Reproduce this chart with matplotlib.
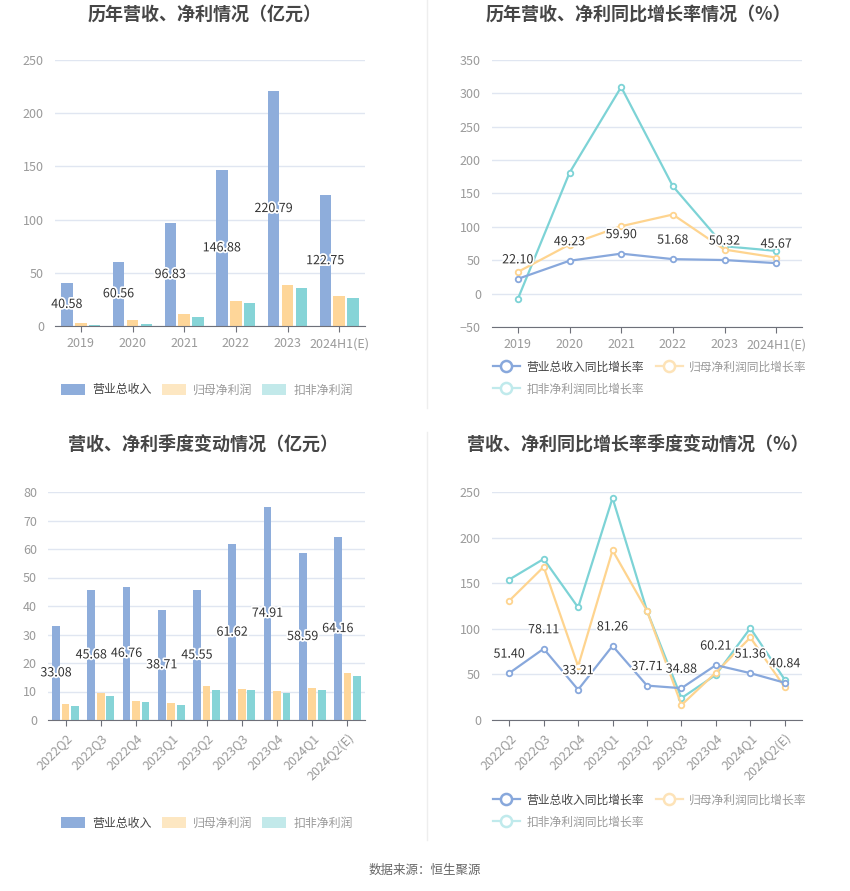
import numpy as np
import matplotlib
matplotlib.use("Agg")
import matplotlib.pyplot as plt
import matplotlib.patheffects as pe
from matplotlib.lines import Line2D
from matplotlib.patches import Patch

plt.rcParams['font.family'] = ['Noto Sans CJK SC', 'DejaVu Sans']

# annual data (亿元)
years = ["2019", "2020", "2021", "2022", "2023", "2024H1(E)"]
rev_y = [40.58, 60.56, 96.83, 146.88, 220.79, 122.75]
np_y = [3.1, 5.3, 10.9, 23.4, 39.0, 27.8]
dnp_y = [0.6, 2.2, 8.1, 21.2, 35.9, 26.2]

# annual growth (%)
rev_g_y = [22.10, 49.23, 59.90, 51.68, 50.32, 45.67]
np_g_y = [32.5, 73.5, 101.0, 118.5, 66.0, 54.0]
dnp_g_y = [-8.0, 181.0, 309.5, 161.0, 71.0, 64.0]

# quarterly data (亿元)
quarters = ["2022Q2", "2022Q3", "2022Q4", "2023Q1", "2023Q2", "2023Q3", "2023Q4", "2024Q1", "2024Q2(E)"]
rev_q = [33.08, 45.68, 46.76, 38.71, 45.55, 61.62, 74.91, 58.59, 64.16]
np_q = [5.5, 9.3, 6.7, 6.0, 12.0, 10.9, 10.2, 11.3, 16.4]
dnp_q = [5.0, 8.4, 6.3, 5.4, 10.7, 10.4, 9.5, 10.7, 15.5]

# quarterly growth (%)
rev_g_q = [51.40, 78.11, 33.21, 81.26, 37.71, 34.88, 60.21, 51.36, 40.84]
np_g_q = [130.7, 167.9, 59.0, 186.0, 119.7, 16.4, 52.0, 90.5, 35.8]
dnp_g_q = [154.0, 176.6, 123.4, 243.4, 119.7, 24.0, 49.6, 100.7, 44.2]

bar_names = ["营业总收入", "归母净利润", "扣非净利润"]
line_names = ["营业总收入同比增长率", "归母净利润同比增长率", "扣非净利润同比增长率"]
c_blue = "#8eaddb"
c_yel = "#fed699"
c_cyan = "#86d4d7"

W, H = 850, 891
fig = plt.figure(figsize=(W / 100, H / 100), dpi=100)


def add_ax(left, top, right, bottom):
    return fig.add_axes([left / W, 1 - bottom / H, (right - left) / W, (bottom - top) / H])


halo = [pe.withStroke(linewidth=2.5, foreground="white")]


def style(ax, ylim, yticks, cats, rotate=False):
    ax.set_ylim(*ylim)
    ax.set_yticks(yticks)
    ax.set_xlim(-0.5, len(cats) - 0.5)
    ax.set_xticks(range(len(cats)))
    if rotate:
        ax.set_xticklabels(cats, rotation=45, ha="right", rotation_mode="anchor")
    else:
        ax.set_xticklabels(cats)
    ax.grid(axis="y", color="#e0e6f1", linewidth=1)
    ax.set_axisbelow(True)
    for s in ["top", "right", "left"]:
        ax.spines[s].set_visible(False)
    ax.spines["bottom"].set_color("#6e7079")
    ax.tick_params(axis="y", length=0, labelsize=9, labelcolor="#9a9a9a", pad=8)
    ax.tick_params(axis="x", length=4, color="#6e7079", labelsize=9, labelcolor="#9a9a9a", pad=4)


def bar_panel(ax, cats, rev, np_, dnp, ylim, yticks, rotate):
    x = np.arange(len(cats))
    off, w = 0.27, 0.22
    ax.bar(x - off, rev, w, color=c_blue)
    ax.bar(x, np_, w, color=c_yel)
    ax.bar(x + off, dnp, w, color=c_cyan)
    for xi, v in zip(x, rev):
        ax.text(xi - off, v / 2, f"{v:.2f}", ha="center", va="center", fontsize=9,
                color="#333333", path_effects=halo)
    style(ax, ylim, yticks, cats, rotate)


def line_panel(ax, cats, rev, np_, dnp, ylim, yticks, rotate):
    x = np.arange(len(cats))
    kw = dict(linewidth=1.6, marker="o", markersize=4, markerfacecolor="white", markeredgewidth=1.3)
    ax.plot(x, dnp, color="#7dd3d6", **kw, zorder=3)
    ax.plot(x, np_, color="#fed48f", **kw, zorder=4)
    ax.plot(x, rev, color="#88a8dc", **kw, zorder=5)
    for xi, v in zip(x, rev):
        ax.annotate(f"{v:.2f}", (xi, v), xytext=(0, 9), textcoords="offset points",
                    ha="center", va="bottom", fontsize=9, color="#333333",
                    path_effects=halo, zorder=6)
    style(ax, ylim, yticks, cats, rotate)


def bar_legend(y_px):
    handles = [Patch(facecolor=c_blue, edgecolor="none"),
               Patch(facecolor="#fde7c2", edgecolor="none"),
               Patch(facecolor="#c2e9ea", edgecolor="none")]
    lg = fig.legend(handles, bar_names, loc="center", bbox_to_anchor=(207 / W, 1 - y_px / H),
                    ncol=3, frameon=False, fontsize=8.6, handlelength=2.0, handleheight=1.1,
                    columnspacing=0.85, handletextpad=0.6)
    for i, t in enumerate(lg.get_texts()):
        t.set_color("#444444" if i == 0 else "#9a9a9a")


def line_legend(y_px):
    cols = ["#88a8dc", "#fde3b8", "#c0eaec"]
    handles = [Line2D([0], [0], color=c, linewidth=1.6, marker="o", markersize=8,
                      markerfacecolor="white", markeredgewidth=1.8) for c in cols]
    # reorder so items fill row by row
    order = [0, 2, 1]
    lg = fig.legend([handles[i] for i in order], [line_names[i] for i in order],
                    loc="upper left", bbox_to_anchor=(482 / W, 1 - y_px / H),
                    ncol=2, frameon=False, fontsize=8.5, handlelength=2.3,
                    columnspacing=1.0, handletextpad=0.55, labelspacing=0.75)
    for t in lg.get_texts():
        t.set_color("#444444" if t.get_text() == line_names[0] else "#9a9a9a")


title_kw = dict(ha="center", va="center", fontsize=13, fontweight="bold", color="#464646")

ax1 = add_ax(55, 60, 365, 326)
bar_panel(ax1, years, rev_y, np_y, dnp_y, (0, 250), range(0, 251, 50), False)
fig.text(205 / W, 1 - 14 / H, "历年营收、净利情况（亿元）", **title_kw)
bar_legend(390)

ax2 = add_ax(492, 60, 802, 327)
line_panel(ax2, years, rev_g_y, np_g_y, dnp_g_y, (-50, 350), range(-50, 351, 50), False)
fig.text(638 / W, 1 - 14 / H, "历年营收、净利同比增长率情况（%）", **title_kw)
line_legend(350)

ax3 = add_ax(48, 492, 365, 720)
bar_panel(ax3, quarters, rev_q, np_q, dnp_q, (0, 80), range(0, 81, 10), True)
fig.text(203 / W, 1 - 444 / H, "营收、净利季度变动情况（亿元）", **title_kw)
bar_legend(823)

ax4 = add_ax(492, 492, 802, 720)
line_panel(ax4, quarters, rev_g_q, np_g_q, dnp_g_q, (0, 250), range(0, 251, 50), True)
fig.text(638 / W, 1 - 444 / H, "营收、净利同比增长率季度变动情况（%）", **title_kw)
line_legend(783)

# faint divider lines
fig.add_artist(Line2D([427 / W, 427 / W], [1 - 408 / H, 1.0], color="#eeeeee", linewidth=1))
fig.add_artist(Line2D([427 / W, 427 / W], [1 - 840 / H, 1 - 432 / H], color="#eeeeee", linewidth=1))

fig.text(425 / W, 1 - 870 / H, "数据来源：恒生聚源", ha="center", va="center",
         fontsize=9, color="#666666")

fig.savefig("out.png", dpi=100, facecolor="white")
